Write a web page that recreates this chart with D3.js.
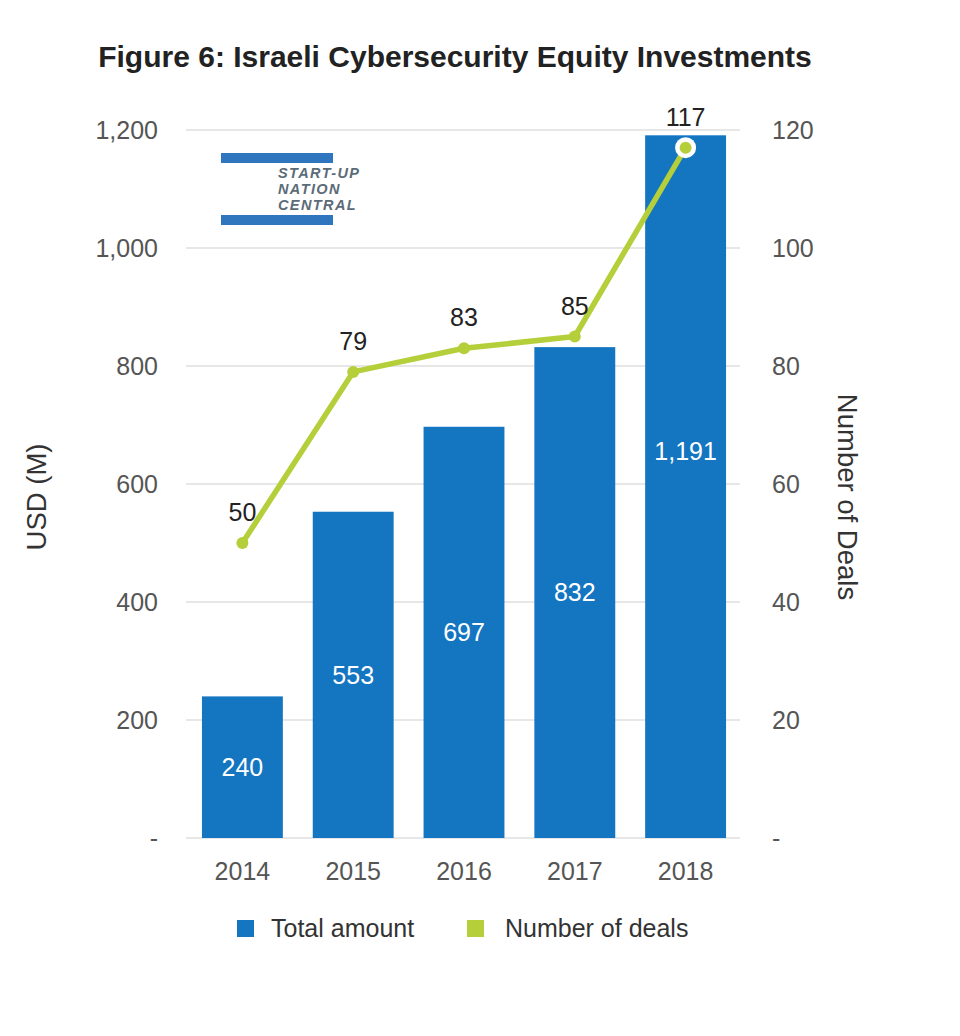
<!DOCTYPE html>
<html><head><meta charset="utf-8">
<script src="https://cdn.jsdelivr.net/npm/d3@7"></script>
<style>body{margin:0;background:#fff}svg{display:block}</style>
</head><body>
<svg id="c" width="960" height="1036"></svg>
<script>
const years = ["2014","2015","2016","2017","2018"];
const totalAmount = [240, 553, 697, 832, 1191];
const numberOfDeals = [50, 79, 83, 85, 117];
const leftTicks = [0, 200, 400, 600, 800, 1000, 1200];
const rightTicks = [0, 20, 40, 60, 80, 100, 120];
const amountLabels = ["240", "553", "697", "832", "1,191"];

const BLUE = "#1475c1", GREEN = "#b4cf3a", TXT = "#555", GRID = "#d0d0d0";
const FONT = "'Liberation Sans', Arial, sans-serif";

const svg = d3.select("#c");
const x = d3.scaleBand().domain(years).range([187, 741]).paddingInner(0.27).paddingOuter(0.135);
const yL = d3.scaleLinear().domain([0, 1200]).range([838, 130]);
const yR = d3.scaleLinear().domain([0, 120]).range([838, 130]);

// title
svg.append("text").attr("x", 455).attr("y", 67).attr("text-anchor", "middle")
  .attr("font-family", FONT).attr("font-weight", "bold").attr("font-size", 30)
  .attr("fill", "#222").text("Figure 6: Israeli Cybersecurity Equity Investments");

// gridlines
svg.append("g").selectAll("line").data(leftTicks).join("line")
  .attr("x1", 186).attr("x2", 740).attr("y1", d => yL(d)).attr("y2", d => yL(d))
  .attr("stroke", GRID).attr("stroke-width", 1.2);

// left axis
const fmt = d => d === 0 ? "-" : d3.format(",")(d);
const la = svg.append("g").attr("transform", "translate(158,0)")
  .call(d3.axisLeft(yL).tickValues(leftTicks).tickFormat(fmt).tickSize(0).tickPadding(0));
la.select(".domain").remove();
la.selectAll("text").attr("font-family", FONT).attr("font-size", 25).attr("fill", TXT);

const ra = svg.append("g").attr("transform", "translate(772,0)")
  .call(d3.axisRight(yR).tickValues(rightTicks).tickFormat(d => d === 0 ? "-" : d).tickSize(0).tickPadding(0));
ra.select(".domain").remove();
ra.selectAll("text").attr("font-family", FONT).attr("font-size", 25).attr("fill", TXT);

// x axis
const xa = svg.append("g").attr("transform", "translate(0,862)")
  .call(d3.axisBottom(x).tickSize(0).tickPadding(0));
xa.select(".domain").remove();
xa.selectAll("text").attr("font-family", FONT).attr("font-size", 25).attr("fill", TXT).attr("dy", "0.71em");

// axis titles
svg.append("text").attr("transform", "translate(46,497) rotate(-90)").attr("text-anchor", "middle")
  .attr("font-family", FONT).attr("font-size", 27.5).attr("fill", "#333").text("USD (M)");
svg.append("text").attr("transform", "translate(838,497) rotate(90)").attr("text-anchor", "middle")
  .attr("font-family", FONT).attr("font-size", 27.5).attr("fill", "#333").text("Number of Deals");

// bars
svg.append("g").selectAll("rect").data(totalAmount).join("rect")
  .attr("x", (d, i) => x(years[i])).attr("width", x.bandwidth())
  .attr("y", d => yL(d)).attr("height", d => yL(0) - yL(d)).attr("fill", BLUE);

// bar labels
svg.append("g").selectAll("text").data(totalAmount).join("text")
  .attr("x", (d, i) => x(years[i]) + x.bandwidth() / 2)
  .attr("y", d => d > 1000 ? yL(d * 0.55) : yL(d / 2))
  .attr("dy", "0.35em").attr("text-anchor", "middle")
  .attr("font-family", FONT).attr("font-size", 25).attr("fill", "#fff")
  .text((d, i) => amountLabels[i]);

// logo
const logo = svg.append("g");
logo.append("rect").attr("x", 221).attr("y", 153).attr("width", 112).attr("height", 10).attr("fill", "#2f76bf");
logo.append("rect").attr("x", 221).attr("y", 215).attr("width", 112).attr("height", 10).attr("fill", "#2f76bf");
["START-UP", "NATION", "CENTRAL"].forEach((t, i) => {
  logo.append("text").attr("x", 278).attr("y", 178 + i * 16)
    .attr("font-family", FONT).attr("font-weight", "bold").attr("font-style", "italic")
    .attr("font-size", 14.5).attr("letter-spacing", 1.4).attr("fill", "#5b6b78").text(t);
});

// line
const cx = (d, i) => x(years[i]) + x.bandwidth() / 2;
const line = d3.line().x((d, i) => cx(d, i)).y(d => yR(d));
svg.append("path").datum(numberOfDeals).attr("d", line)
  .attr("fill", "none").attr("stroke", GREEN).attr("stroke-width", 5.5).attr("stroke-linejoin", "round");
const last = numberOfDeals.length - 1;
svg.append("circle").attr("cx", cx(0, last)).attr("cy", yR(numberOfDeals[last])).attr("r", 10.5).attr("fill", "#fff");
svg.append("g").selectAll("circle").data(numberOfDeals).join("circle")
  .attr("cx", (d, i) => cx(d, i)).attr("cy", d => yR(d)).attr("r", 6).attr("fill", GREEN);

svg.append("g").selectAll("text").data(numberOfDeals).join("text")
  .attr("x", (d, i) => cx(d, i)).attr("y", d => yR(d) - 22)
  .attr("text-anchor", "middle").attr("font-family", FONT).attr("font-size", 25).attr("fill", "#222")
  .text(d => d);

// legend
const leg = svg.append("g");
leg.append("rect").attr("x", 237).attr("y", 920).attr("width", 17).attr("height", 17).attr("fill", BLUE);
leg.append("text").attr("x", 271).attr("y", 937).attr("font-family", FONT).attr("font-size", 25).attr("fill", "#333").text("Total amount");
leg.append("rect").attr("x", 467).attr("y", 920).attr("width", 17).attr("height", 17).attr("fill", GREEN);
leg.append("text").attr("x", 505).attr("y", 937).attr("font-family", FONT).attr("font-size", 25).attr("fill", "#333").text("Number of deals");
</script>
</body></html>
